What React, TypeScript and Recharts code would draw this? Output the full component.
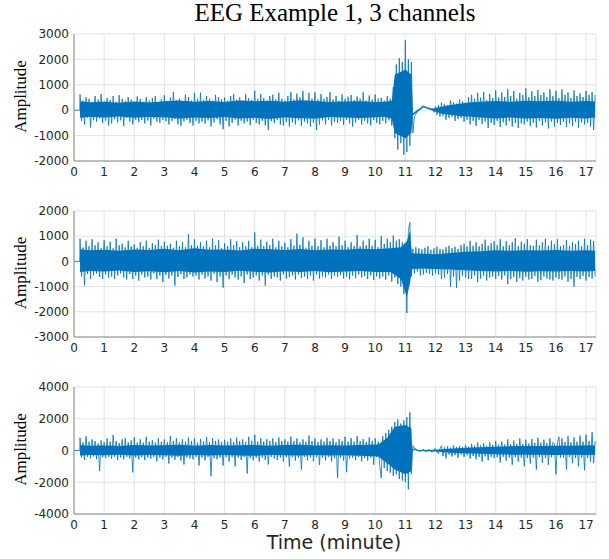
import { ComposedChart, Line, Area, XAxis, YAxis, CartesianGrid } from "recharts";

const BLUE = "#0072BD";
const AXIS = "#8a8a8a";
const GRID = "#e2e2e2";
const TEXT = "#262626";

// one extreme value read every 0.05 min, from 0.2 to 17.3 min (alternating peaks/troughs)
const SAMPLE_START = 0.2;
const SAMPLE_STEP = 0.05;

const X_TICKS = [0, 1, 2, 3, 4, 5, 6, 7, 8, 9, 10, 11, 12, 13, 14, 15, 16, 17];
const X_MAX = 17.33;

// channel 1
const ch1Peaks = [
  620, -420, 380, -560, 510, -300, 450, -680, 300, -390, 560, -450, 420, -330, 640, -500, 350, -420, 480, -600,
  400, -520, 560, -350, 330, -480, 590, -400, 450, -620, 370, -300, 520, -450, 410, -560, 300, -380, 540, -470,
  450, -380, 330, -520, 520, -410, 380, -600, 470, -330, 560, -450, 300, -500, 420, -380, 590, -430, 350, -560,
  500, -420, 720, -350, 400, -560, 460, -620, 350, -440, 610, -380, 520, -500, 380, -600, 680, -420, 450, -520,
  690, -450, 400, -530, 560, -400, 450, -640, 380, -480, 600, -350, 520, -560, 430, -750, 500, -420, 380, -640,
  560, -500, 640, -380, 420, -600, 500, -420, 380, -520, 620, -450, 470, -590, 400, -380, 770, -500, 450, -560,
  640, -420, 480, -600, 380, -780, 560, -430, 610, -500, 420, -380, 690, -560, 450, -600, 380, -470, 560, -640,
  720, -480, 420, -560, 650, -400, 500, -620, 760, -450, 380, -520, 680, -640, 450, -500, 700, -780, 420, -560,
  640, -400, 450, -560, 520, -380, 710, -600, 420, -460, 560, -500, 380, -420, 620, -580, 450, -380, 530, -520,
  600, -640, 400, -480, 540, -380, 450, -560, 700, -420, 380, -520, 580, -600, 420, -380, 620, -500, 450, -560,
  480, -420, 380, -520, 560, -400, 450, -600, 900, -1100, 1800, -1550, 2050, -1300, 1900, -1750, 2750, -1650, 2000, -1400,
  1900, -900, -250, -150, -60, 20, 80, 150, 170, 130, 110, 60, 90, 20, 60, -80, 150, -180, 200, -250,
  300, -220, 250, -380, 200, -300, 380, -260, 320, -420, 260, -350, 420, -300, 350, -460, 300, -380, 520, -560,
  600, -420, 450, -620, 680, -380, 500, -540, 720, -450, 400, -700, 640, -500, 480, -580, 780, -420, 500, -660,
  700, -480, 520, -600, 820, -420, 560, -640, 760, -500, 450, -700, 680, -520, 600, -560, 860, -450, 520, -620,
  740, -500, 560, -680, 800, -420, 600, -600, 700, -480, 520, -720, 820, -450, 560, -640, 760, -500, 480, -580,
  820, -460, 600, -660, 700, -520, 480, -620, 780, -450, 560, -700, 660, -480, 520, -560, 760, -500, 600, -640,
  720, -780, 600,
];
// dense core of the trace (lower / upper edge) at a few read-off times
const ch1BandT = [
  0.2, 0.5, 1, 1.5, 2, 2.5, 3, 3.5, 4, 4.5, 5, 5.5, 6, 6.5, 7, 7.5, 8, 8.5, 9, 9.5, 10, 10.3,
  10.55, 10.65, 11.0, 11.2, 11.25, 11.4, 11.6, 11.9, 12.2, 12.5, 12.8, 13.2, 13.5, 14, 14.5, 15, 15.5, 16, 16.5, 17, 17.3,
];
const ch1BandLo = [
  -300, -260, -290, -250, -300, -270, -280, -330, -290, -310, -270, -330, -300, -350, -280, -320, -330, -270, -290, -310, -280, -260,
  -340, -900, -1100, -900, -200, -70, 110, -10, -140, -180, -230, -260, -290, -330, -290, -330, -310, -340, -300, -330, -290,
];
const ch1BandHi = [
  350, 310, 330, 290, 340, 300, 350, 380, 330, 360, 320, 380, 350, 370, 330, 390, 360, 320, 340, 350, 320, 330,
  370, 1400, 1600, 1400, -120, 10, 160, 60, 140, 200, 250, 310, 330, 360, 330, 370, 350, 370, 330, 360, 340,
];
const ch1Ticks = [-2000, -1000, 0, 1000, 2000, 3000];

// channel 2
const ch2Peaks = [
  900, -600, 550, -950, 820, -500, 600, -700, 880, -550, 640, -480, 760, -620, 520, -700, 840, -520, 600, -650,
  780, -600, 520, -700, 900, -560, 640, -480, 700, -640, 560, -720, 820, -500, 600, -700, 680, -560, 540, -760,
  760, -520, 600, -640, 820, -600, 540, -720, 720, -480, 650, -700, 860, -560, 600, -820, 780, -540, 620, -680,
  700, -560, 540, -960, 820, -620, 600, -500, 760, -700, 560, -640, 1080, -520, 640, -600, 880, -560, 620, -720,
  760, -520, 600, -680, 820, -600, 560, -760, 900, -500, 640, -820, 840, -600, 520, -1040, 720, -560, 600, -700,
  880, -520, 640, -640, 800, -720, 560, -600, 760, -860, 600, -520, 820, -700, 560, -640, 1150, -560, 620, -760,
  860, -560, 600, -960, 780, -520, 640, -700, 900, -600, 560, -640, 820, -760, 600, -520, 740, -680, 560, -620,
  880, -560, 620, -720, 1100, -520, 660, -660, 960, -600, 540, -700, 820, -560, 620, -760, 900, -520, 600, -680,
  840, -600, 560, -640, 900, -520, 620, -700, 760, -560, 600, -620, 980, -540, 640, -680, 820, -600, 560, -720,
  760, -560, 620, -660, 1050, -520, 600, -640, 820, -580, 640, -700, 900, -560, 620, -740, 860, -600, 560, -680,
  1000, -600, 700, -720, 900, -560, 760, -800, 1020, -640, 820, -900, 880, -1000, 760, -1300, 700, -2050, 1200, 1550,
  -600, 500, -480, 560, -400, 520, -560, 480, -520, 540, -450, 600, -500, 460, -560, 520, -480, 580, -520, 500,
  -700, 480, -640, 560, -500, 620, -1000, 520, -600, 580, -1050, 500, -760, 640, -560, 700, -640, 600, -700, 820,
  -700, 620, -560, 760, -820, 600, -680, 700, -560, 860, -760, 620, -640, 720, -600, 800, -700, 640, -580, 880,
  -720, 600, -560, 800, -900, 640, -700, 760, -620, 920, -820, 600, -660, 780, -760, 700, -600, 880, -720, 640,
  -700, 620, -580, 860, -800, 640, -740, 760, -600, 900, -680, 620, -720, 820, -760, 680, -640, 880, -700, 600,
  -720, 640, -600, 840, -800, 620, -700, 760, -1000, 680, -620, 820, -700, 600, -580, 900, -760, 640, -620, 860,
  -680, 800, -600,
];
const ch2BandT = [
  0.2, 0.5, 1, 1.5, 2, 2.5, 3, 3.5, 4, 4.5, 5, 5.5, 6, 6.5, 7, 7.5, 8, 8.5, 9, 9.5, 10, 10.5,
  10.85, 11.05, 11.15, 11.22, 11.6, 12, 12.5, 13, 13.5, 14, 14.5, 15, 15.5, 16, 16.5, 17, 17.3,
];
const ch2BandLo = [
  -420, -380, -400, -360, -420, -390, -430, -380, -440, -400, -420, -370, -410, -440, -390, -420, -380, -430, -400, -380, -420, -420,
  -700, -1400, -900, -300, -280, -300, -320, -350, -380, -400, -380, -410, -390, -400, -380, -400, -380,
];
const ch2BandHi = [
  480, 440, 460, 420, 470, 450, 500, 440, 520, 460, 470, 430, 500, 480, 450, 490, 440, 470, 460, 500, 480, 520,
  560, 800, 1200, 320, 300, 280, 330, 380, 400, 440, 420, 440, 430, 450, 420, 440, 420,
];
const ch2Ticks = [-3000, -2000, -1000, 0, 1000, 2000];

// channel 3
const ch3Peaks = [
  800, -450, 500, -600, 900, -400, 550, -500, 700, -380, 600, -550, 450, -1300, 640, -420, 520, -480, 760, -400,
  560, -520, 980, -400, 600, -600, 480, -450, 700, -560, 760, -400, 520, -500, 640, -1380, 820, -450, 500, -560,
  700, -420, 500, -600, 860, -450, 560, -520, 640, -400, 500, -680, 760, -450, 560, -560, 700, -400, 520, -820,
  920, -450, 600, -600, 780, -400, 520, -640, 700, -880, 560, -450, 820, -500, 600, -560, 760, -400, 500, -950,
  720, -450, 560, -620, 860, -400, 520, -1620, 780, -480, 600, -560, 700, -450, 540, -950, 680, -420, 560, -700,
  760, -420, 520, -1000, 820, -450, 600, -600, 700, -400, 540, -1450, 860, -480, 620, -620, 1000, -450, 560, -700,
  780, -450, 560, -600, 720, -880, 600, -400, 760, -500, 540, -600, 820, -450, 600, -700, 700, -420, 560, -1000,
  880, -420, 600, -640, 760, -450, 520, -1200, 700, -400, 560, -620, 940, -450, 600, -680, 760, -420, 540, -900,
  700, -450, 560, -620, 800, -400, 600, -700, 760, -480, 520, -1720, 720, -450, 600, -640, 860, -1370, 560, -500,
  780, -450, 560, -600, 900, -400, 600, -680, 720, -480, 540, -640, 820, -450, 600, -900, 760, -420, 560, -1000,
  -1720, 900, -1100, 1100, -1300, 1300, -1400, 1500, -1600, 1800, -1500, 1950, -1800, 1700, -1900, 1900, -2000, 2100, -2450, 2400,
  -1500, 300, 160, 100, 40, -30, -60, 20, 80, -40, -80, 30, 60, -60, -100, 40, 120, -80, -200, 100,
  300, -350, 200, -500, 260, -250, 180, -380, 320, -300, 220, -460, 280, -250, 200, -400, 360, -300, 240, -520,
  420, -350, 300, -560, 500, -400, 320, -700, 460, -380, 300, -620, 520, -400, 350, -480, 600, -420, 360, -760,
  560, -400, 380, -640, 700, -450, 400, -900, 620, -420, 420, -700, 760, -450, 420, -1000, 680, -480, 440, -820,
  720, -450, 480, -1200, 800, -420, 500, -760, 680, -480, 460, -900, 760, -420, 520, 420, -1500, 500, 860, -450,
  760, -450, 540, -1200, 900, -420, 520, -800, 820, -480, 560, -1000, 940, -450, 560, -1250, 1000, -480, 600, -700,
  1150, -800, 600,
];
const ch3BandT = [
  0.2, 0.5, 1, 1.5, 2, 2.5, 3, 3.5, 4, 4.5, 5, 5.5, 6, 6.5, 7, 7.5, 8, 8.5, 9, 9.5, 10.1,
  10.4, 10.65, 11.0, 11.2, 11.23, 11.3, 11.4, 12, 12.6, 13, 13.5, 14, 14.5, 15, 15.5, 16, 16.5, 17, 17.3,
];
const ch3BandLo = [
  -320, -280, -300, -260, -310, -290, -300, -330, -280, -320, -290, -310, -330, -280, -300, -320, -290, -310, -300, -330, -380,
  -800, -1200, -1500, -1300, -50, 60, -30, -60, -150, -180, -200, -240, -260, -270, -260, -280, -270, -290, -270,
];
const ch3BandHi = [
  340, 300, 320, 290, 350, 310, 330, 360, 300, 340, 320, 330, 350, 300, 340, 360, 320, 330, 310, 340, 380,
  800, 1500, 1600, 1400, 70, 140, 30, 50, 120, 170, 200, 240, 270, 280, 290, 300, 300, 330, 320,
];
const ch3Ticks = [-4000, -2000, 0, 2000, 4000];

type Row = { t: number; v?: number; band?: [number, number] };

function buildRows(peaks: number[], bandT: number[], bandLo: number[], bandHi: number[]): Row[] {
  const rows: Row[] = [
    { t: 0, v: 0 },
    { t: 0.19, v: 0 },
  ];
  peaks.forEach((v, i) => {
    rows.push({ t: Math.round((SAMPLE_START + i * SAMPLE_STEP) * 1000) / 1000, v });
  });
  bandT.forEach((t, k) => {
    rows.push({ t, band: [bandLo[k], bandHi[k]] });
  });
  return rows.sort((a, b) => a.t - b.t);
}

const tickFont = { fill: TEXT, fontSize: 12, fontFamily: "DejaVu Sans" };

function Channel({
  rows,
  yTicks,
  plotTop,
  plotHeight,
}: {
  rows: Row[];
  yTicks: number[];
  plotTop: number;
  plotHeight: number;
}) {
  const yDomain: [number, number] = [yTicks[0], yTicks[yTicks.length - 1]];
  const top = 10;
  const xh = 24;
  return (
    <div style={{ position: "absolute", left: 0, top: plotTop - top }}>
      <ComposedChart
        width={609}
        height={top + plotHeight + xh}
        data={rows}
        margin={{ top, right: 13, bottom: 0, left: 0 }}
      >
        {/* inward ticks + box, MATLAB style */}
        <XAxis
          xAxisId="top"
          orientation="top"
          mirror
          height={0}
          dataKey="t"
          type="number"
          domain={[0, X_MAX]}
          ticks={X_TICKS}
          interval={0}
          allowDataOverflow
          tick={false}
          tickSize={4}
          tickLine={{ stroke: AXIS }}
          axisLine={{ stroke: AXIS }}
        />
        <XAxis
          xAxisId="bin"
          orientation="bottom"
          mirror
          height={0}
          dataKey="t"
          type="number"
          domain={[0, X_MAX]}
          ticks={X_TICKS}
          interval={0}
          allowDataOverflow
          tick={false}
          tickSize={4}
          tickLine={{ stroke: AXIS }}
          axisLine={false}
        />
        <YAxis
          yAxisId="lin"
          orientation="left"
          mirror
          width={0}
          type="number"
          domain={yDomain}
          ticks={yTicks}
          interval={0}
          allowDataOverflow
          tick={false}
          tickSize={4}
          tickLine={{ stroke: AXIS }}
          axisLine={false}
        />
        <YAxis
          yAxisId="right"
          orientation="right"
          mirror
          width={0}
          type="number"
          domain={yDomain}
          ticks={yTicks}
          interval={0}
          allowDataOverflow
          tick={false}
          tickSize={4}
          tickLine={{ stroke: AXIS }}
          axisLine={{ stroke: AXIS }}
        />
        <XAxis
          xAxisId="b"
          dataKey="t"
          type="number"
          domain={[0, X_MAX]}
          ticks={X_TICKS}
          interval={0}
          allowDataOverflow
          height={xh}
          tickLine={false}
          tickSize={0}
          tickMargin={6}
          axisLine={{ stroke: AXIS }}
          tick={tickFont}
        />
        <YAxis
          yAxisId="l"
          type="number"
          domain={yDomain}
          ticks={yTicks}
          interval={0}
          allowDataOverflow
          width={74}
          tickLine={false}
          tickSize={0}
          tickMargin={5}
          axisLine={{ stroke: AXIS }}
          tick={tickFont}
        />
        <CartesianGrid xAxisId="b" yAxisId="l" stroke={GRID} />
        <Area
          xAxisId="b"
          yAxisId="l"
          dataKey="band"
          type="linear"
          stroke="none"
          fill={BLUE}
          fillOpacity={1}
          connectNulls
          isAnimationActive={false}
        />
        <Line
          xAxisId="b"
          yAxisId="l"
          dataKey="v"
          type="linear"
          stroke={BLUE}
          strokeWidth={0.8}
          dot={false}
          activeDot={false}
          connectNulls
          isAnimationActive={false}
        />
      </ComposedChart>
    </div>
  );
}

const rows1 = buildRows(ch1Peaks, ch1BandT, ch1BandLo, ch1BandHi);
const rows2 = buildRows(ch2Peaks, ch2BandT, ch2BandLo, ch2BandHi);
const rows3 = buildRows(ch3Peaks, ch3BandT, ch3BandLo, ch3BandHi);

const panels = [
  { rows: rows1, ticks: ch1Ticks, top: 34, h: 127 },
  { rows: rows2, ticks: ch2Ticks, top: 211, h: 126 },
  { rows: rows3, ticks: ch3Ticks, top: 387, h: 127 },
];

export default function App() {
  return (
    <div style={{ position: "absolute", left: 0, top: 0, width: 609, height: 559, background: "#fff" }}>
      {panels.map((p, i) => (
        <Channel key={i} rows={p.rows} yTicks={p.ticks} plotTop={p.top} plotHeight={p.h} />
      ))}
      <svg width={609} height={559} style={{ position: "absolute", left: 0, top: 0, pointerEvents: "none" }}>
        <text x={335} y={20.5} textAnchor="middle" fontFamily="Liberation Serif" fontSize={25} fill="#000">
          EEG Example 1, 3 channels
        </text>
        {panels.map((p, i) => (
          <text
            key={i}
            transform={`translate(26, ${p.top + p.h / 2 - 1}) rotate(-90)`}
            textAnchor="middle"
            fontFamily="Liberation Serif"
            fontSize={17}
            fill="#000"
          >
            Amplitude
          </text>
        ))}
        <text x={334} y={549} textAnchor="middle" fontFamily="DejaVu Sans" fontSize={19} fill={TEXT}>
          Time (minute)
        </text>
      </svg>
    </div>
  );
}
